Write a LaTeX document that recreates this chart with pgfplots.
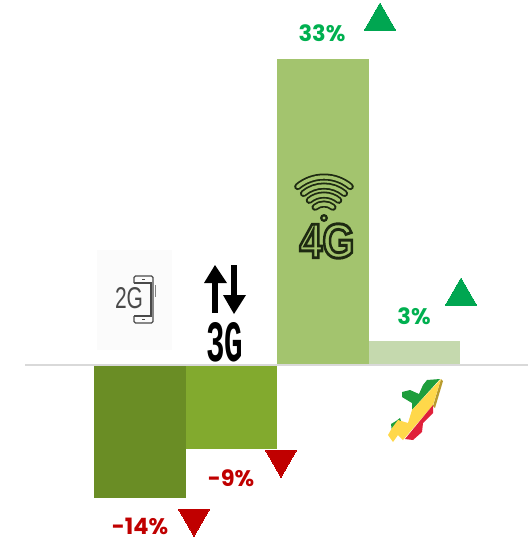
\documentclass[border=0pt]{standalone}
\usepackage{fontspec}
\usepackage{graphicx}
\usepackage{pgfplots}
\pgfplotsset{compat=1.18}
\setmainfont{Poppins}
\newfontfamily\iconfont{Liberation Sans}
\newfontfamily\blockfont{Liberation Mono}
\definecolor{c2g}{HTML}{6A8D25}
\definecolor{c3g}{HTML}{82AA2E}
\definecolor{c4g}{HTML}{A3C46E}
\definecolor{cother}{HTML}{C5D9AE}
\definecolor{upgreen}{HTML}{00B050}
\definecolor{uptri}{HTML}{00A651}
\definecolor{downred}{HTML}{C00000}
\definecolor{ruleg}{HTML}{D9D9D9}
\definecolor{icong}{HTML}{4A4A4A}
\definecolor{icondark}{HTML}{1E2A12}
\definecolor{mapgreen}{HTML}{1E9E3C}
\definecolor{mapyellow}{HTML}{FFD84A}
\definecolor{mapred}{HTML}{E0203A}
\definecolor{mapedge}{HTML}{B89B2E}
\begin{document}
\begin{tikzpicture}
% bars, in percent
\begin{axis}[
    at={(0,0)},anchor=south west,
    scale only axis,width=531pt,height=539pt,
    hide axis,clip=false,
    xmin=-1.53,xmax=4.273,
    ymin=-18.77,ymax=39.37,
]
\addplot[ybar,bar width=91.5pt,fill=c2g,draw=none] coordinates {(0,-14.4)};
\addplot[ybar,bar width=91.5pt,fill=c3g,draw=none] coordinates {(1,-9.1)};
\addplot[ybar,bar width=91.5pt,fill=c4g,draw=none] coordinates {(2,33)};
\addplot[ybar,bar width=91.5pt,fill=cother,draw=none] coordinates {(3,2.6)};
\addplot[ruleg,line width=1.6pt] coordinates {(-1.255,0) (4.24,0)};
\end{axis}
% annotations, in picture pixels measured from the top left
\begin{axis}[
    at={(0,0)},anchor=south west,
    scale only axis,width=531pt,height=539pt,
    hide axis,clip=false,
    xmin=0,xmax=531,ymin=0,ymax=539,y dir=reverse,
]
\path (0,0) rectangle (531,539); % hidden axis gives no bounding box
\addplot[only marks,color=uptri,mark=triangle*,mark size=18pt,mark options={line width=0pt,draw=uptri,fill=uptri}] coordinates {(380,21) (461,296)};
\addplot[only marks,color=downred,mark=triangle*,mark size=18pt,mark options={rotate=180,line width=0pt,draw=downred,fill=downred}] coordinates {(281,459) (194,518)};

\node[inner sep=0pt,text=upgreen,font=\fontsize{22.5}{24}\selectfont\bfseries] at (322,33) {33\%};
\node[inner sep=0pt,text=upgreen,font=\fontsize{22.5}{24}\selectfont\bfseries] at (414,316) {3\%};
\node[inner sep=0pt,text=downred,font=\fontsize{22.5}{24}\selectfont\bfseries] at (231,478) {-9\%};
\node[inner sep=0pt,text=downred,font=\fontsize{22.5}{24}\selectfont\bfseries] at (140,526) {-14\%};

% 2G icon
\fill[black!1.5] (97,250) rectangle (172,350);
\node[text=icong,inner sep=0pt] at (129,298.5) {\resizebox{28pt}{21pt}{\iconfont 2G}};
\draw[icong,line width=1.3pt,rounded corners=1.5pt] (134,283) -- (134,276) -- (153,276) -- (153,323) -- (134,323) -- (134,316);
\draw[icong,line width=1.1pt] (134,283) -- (151,283) -- (151,316) -- (134,316);
\draw[icong,line width=1pt] (142,279.5) -- (145,279.5) (142,319.5) -- (145,319.5);
\draw[icong!70,line width=1pt] (155,285) -- (155,297);

% 3G icon
\draw[black,line width=5.5pt] (215,283) -- (215,313);
\fill[black] (215,265) -- (227,283) -- (204,283) -- cycle;
\draw[black,line width=5.5pt] (234,265) -- (234,296);
\fill[black] (234,314) -- (246,295) -- (223,295) -- cycle;
\node[inner sep=0pt,text=black] at (225,342.5) {\resizebox{37pt}{39pt}{\blockfont\bfseries 3G}};

% 4G icon
\foreach \r in {41,32,23,14} {
  \edef\tmp{\noexpand\draw[icondark,line width=7pt,line cap=round] (axis cs:324,218) ++(130:\r pt) arc[start angle=130,end angle=50,radius=\r pt];}\tmp
  \edef\tmp{\noexpand\draw[c4g,line width=3.4pt,line cap=round] (axis cs:324,218) ++(130:\r pt) arc[start angle=130,end angle=50,radius=\r pt];}\tmp
}
\fill[icondark] (axis cs:324,218) circle[radius=4pt];
\fill[c4g] (axis cs:324,218) circle[radius=1.6pt];
\node[inner sep=0pt,text=icondark] at (327,241) {\resizebox{55pt}{34pt}{\iconfont\bfseries\special{pdf:code 1 Tr 0.6 w}4G\special{pdf:code 0 Tr}}};

% country outline
\fill[mapedge] (441,379) -- (443,381) -- (435,408) -- (433,406) -- cycle;
\fill[mapgreen] (440,379) -- (427,380) -- (423,385) -- (419,394) -- (410,390) -- (402,392) -- (402,397) -- (412,403) -- (412,410) -- cycle;
\fill[mapgreen] (391,424) -- (396,421) -- (400,418) -- (402,424) -- (392,432) -- cycle;
\fill[mapyellow] (441,379) -- (433,405) -- (403,440) -- (398,435) -- (393,442) -- (388,435) -- (392,428) -- (398,420) -- (408,423) -- (412,410) -- cycle;
\fill[mapred] (433,405) -- (433,413) -- (423,423) -- (422,432) -- (413,440) -- (405,439) -- cycle;
\end{axis}
\end{tikzpicture}
\end{document}
